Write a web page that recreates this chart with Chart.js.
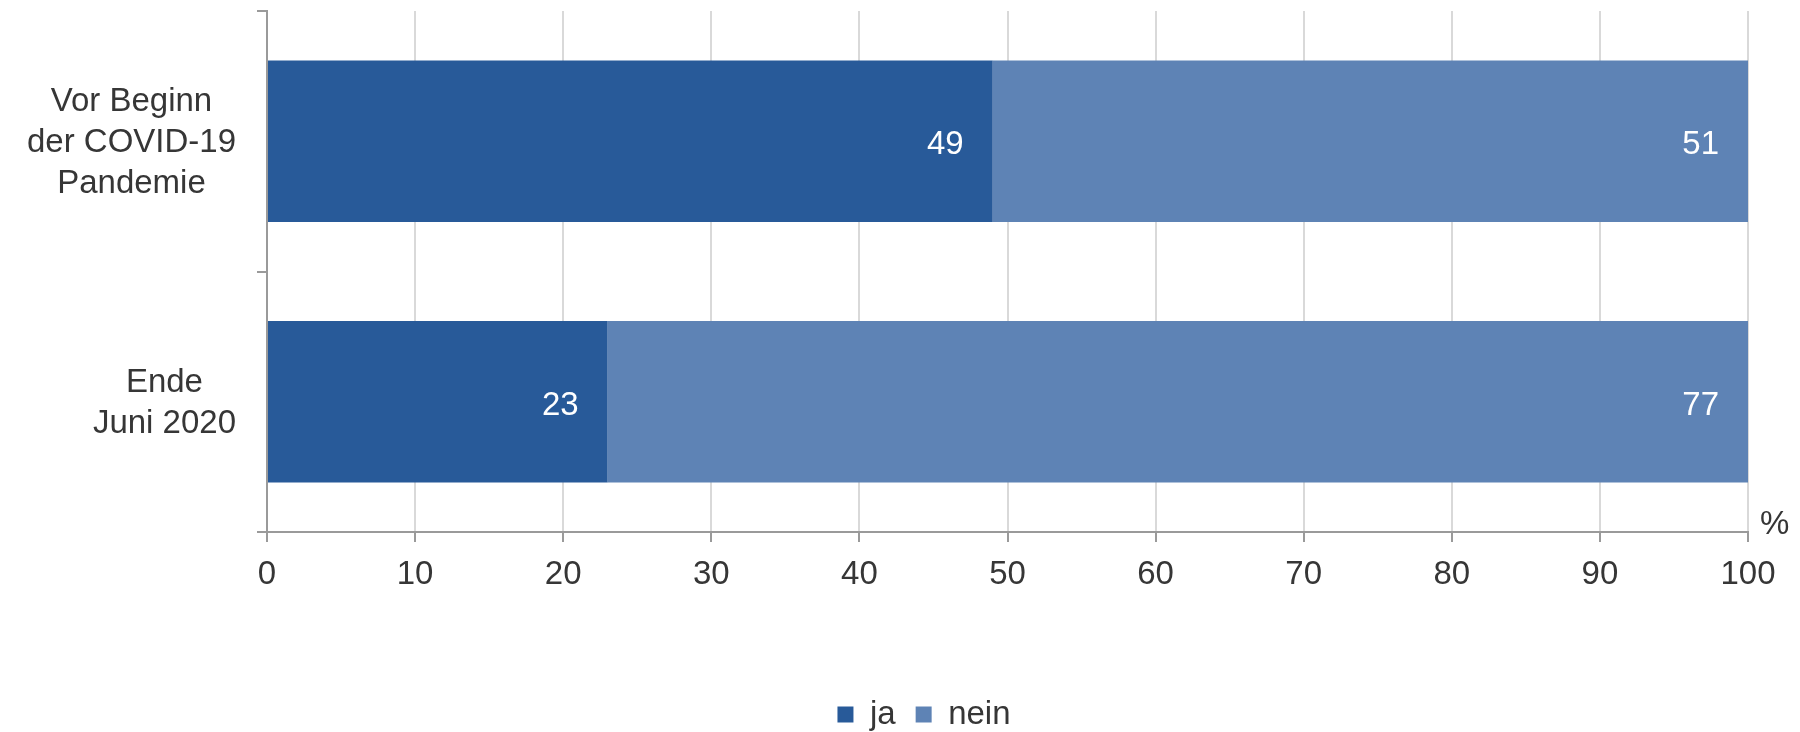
<!DOCTYPE html>
<html>
<head>
<meta charset="utf-8">
<script src="https://cdn.jsdelivr.net/npm/chart.js@4/dist/chart.umd.min.js"></script>
<style>
  html, body { margin: 0; padding: 0; background: #ffffff; }
  #wrap { width: 1800px; height: 732px; }
</style>
</head>
<body>
<div id="wrap"><canvas id="c" width="1800" height="732"></canvas></div>
<script>
// ---- data ----
const categories = [["Vor Beginn", "der COVID-19", "Pandemie"], ["Ende", "Juni 2020"]];
const jaValues = [49, 23];
const neinValues = [51, 77];
const seriesNames = ["ja", "nein"];
const axisMin = 0;
const axisMax = 100;
const axisStep = 10;
const unitLabel = "%";

// ---- styles ----
const FONT = "'Liberation Sans', Arial, sans-serif";
const FS = 33;
const TEXT = "#363636";
const colJa = "#285A99";
const colNein = "#5E83B5";

const customText = {
  id: 'customText',
  afterDatasetsDraw(chart) {
    const ctx = chart.ctx;
    ctx.save();
    ctx.font = FS + "px " + FONT;
    ctx.fillStyle = "#ffffff";
    ctx.textAlign = "right";
    ctx.textBaseline = "middle";
    chart.data.datasets.forEach((ds, di) => {
      const meta = chart.getDatasetMeta(di);
      meta.data.forEach((el, i) => {
        ctx.fillText(String(ds.data[i]), el.x - 29, el.y + 4);
      });
    });
    ctx.restore();
  },
  afterDraw(chart) {
    const ctx = chart.ctx;
    const area = chart.chartArea;
    const yScale = chart.scales.y;
    const xScale = chart.scales.x;
    ctx.save();
    ctx.font = FS + "px " + FONT;
    ctx.fillStyle = TEXT;
    ctx.textBaseline = "middle";
    ctx.textAlign = "center";
    const lh = 41;
    chart.data.labels.forEach((lines, i) => {
      const yc = yScale.getPixelForValue(i);
      let w = 0;
      lines.forEach(t => { w = Math.max(w, ctx.measureText(t).width); });
      const cx = area.left - 31 - w / 2;
      const y0 = yc - (lines.length - 1) * lh / 2;
      lines.forEach((t, k) => ctx.fillText(t, cx, y0 + k * lh + 2));
    });
    ctx.textAlign = "left";
    ctx.textBaseline = "alphabetic";
    ctx.fillText(unitLabel, xScale.right + 12, xScale.top + 2);
    ctx.restore();
  }
};

new Chart(document.getElementById('c'), {
  type: 'bar',
  data: {
    labels: categories,
    datasets: [
      { label: seriesNames[0], data: jaValues, backgroundColor: colJa, borderWidth: 0,
        barPercentage: 0.62, categoryPercentage: 1.0 },
      { label: seriesNames[1], data: neinValues, backgroundColor: colNein, borderWidth: 0,
        barPercentage: 0.62, categoryPercentage: 1.0 }
    ]
  },
  options: {
    indexAxis: 'y',
    responsive: false,
    animation: false,
    devicePixelRatio: 1,
    layout: { padding: { left: 100, right: 52, top: 11, bottom: -9 } },
    plugins: {
      legend: {
        position: 'bottom',
        labels: {
          font: { family: FONT, size: FS, lineHeight: 1 },
          color: TEXT,
          boxWidth: 16,
          boxHeight: 16,
          padding: 20
        }
      },
      tooltip: { enabled: false }
    },
    scales: {
      x: {
        stacked: true,
        min: axisMin,
        max: axisMax,
        ticks: { stepSize: axisStep, font: { family: FONT, size: FS }, color: TEXT, padding: 13 },
        grid: { color: "#d9d9d9", lineWidth: 2, tickColor: "#9a9a9a", tickLength: 10, drawOnChartArea: true },
        border: { color: "#9a9a9a", width: 2 },
        afterFit(s) { s.height = 146; }
      },
      y: {
        stacked: true,
        ticks: { display: false },
        grid: { drawOnChartArea: false, tickColor: "#9a9a9a", tickLength: 10, offset: true, lineWidth: 2 },
        border: { color: "#9a9a9a", width: 2 },
        afterFit(s) { s.width = 167; }
      }
    }
  },
  plugins: [customText]
});
</script>
</body>
</html>
